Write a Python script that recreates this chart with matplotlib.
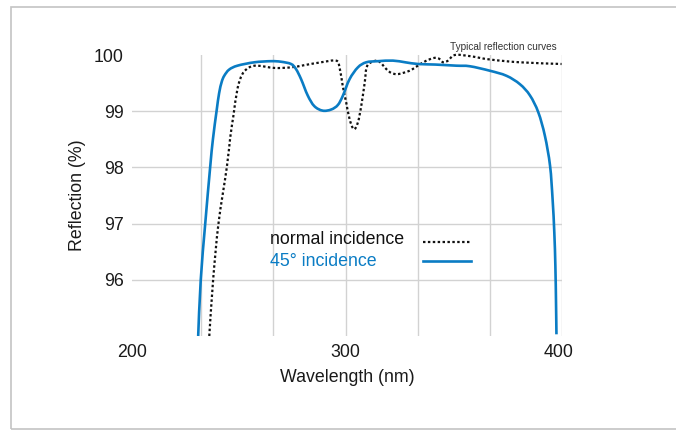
import matplotlib
matplotlib.use("Agg")
import matplotlib.pyplot as plt
import numpy as np
from matplotlib.patches import Rectangle, PathPatch
from matplotlib.path import Path

plt.rcParams['font.family'] = ['Liberation Sans', 'DejaVu Sans']

# 45° incidence (solid blue)
blue_nm = [231.0, 232.2, 234.3, 236.6, 237.9, 239.6, 240.8, 242.0, 243.2, 245.5,
           249.4, 257.3, 265.1, 269.8, 274.5, 276.8, 279.2, 282.3, 285.4, 289.3,
           293.3, 296.4, 298.7, 301.9, 305.8, 309.7, 315.2, 322.2, 328.0, 333.9,
           342.0, 351.9, 358.2, 367.6, 375.4, 381.7, 386.4, 390.3, 393.4, 395.8,
           397.0, 397.8, 398.3, 398.6, 398.8]
blue_r = [95.0, 96.0, 97.0, 98.0, 98.50, 99.0, 99.32, 99.52, 99.63, 99.74,
          99.81, 99.87, 99.89, 99.88, 99.84, 99.75, 99.57, 99.28, 99.09, 99.01,
          99.03, 99.11, 99.27, 99.57, 99.78, 99.87, 99.89, 99.90, 99.87, 99.84,
          99.83, 99.81, 99.80, 99.72, 99.63, 99.48, 99.28, 98.98, 98.56, 98.03,
          97.43, 96.84, 96.24, 95.59, 95.03]

# normal incidence (dotted black)
norm_nm = [236.2, 238.0, 240.5, 244.4, 246.0, 247.5, 249.4, 251.7, 254.9, 258.8,
           266.7, 274.5, 280.8, 288.5, 295.6, 297.2, 298.7, 300.3, 301.9, 303.9,
           305.8, 307.4, 309.0, 310.2, 314.4, 316.5, 319.1, 321.5, 324.6, 330.0,
           333.9, 337.9, 341.8, 344.0, 345.7, 348.0, 351.2, 358.2, 367.6, 381.7,
           401.2]
norm_r = [95.0, 96.0, 97.0, 98.0, 98.53, 98.92, 99.40, 99.66, 99.78, 99.81,
          99.77, 99.78, 99.82, 99.87, 99.90, 99.78, 99.45, 99.16, 98.86, 98.68,
          98.80, 99.10, 99.51, 99.81, 99.90, 99.86, 99.75, 99.68, 99.66, 99.72,
          99.81, 99.90, 99.95, 99.93, 99.87, 99.90, 100.0, 99.98, 99.92, 99.87,
          99.84]

x_ticks = [200, 300, 400]
y_ticks = [96, 97, 98, 99, 100]
x_grid = [232.4, 266.2, 300.0, 333.8, 367.6, 401.4]
y_grid = [96, 97, 98, 99]
legend_labels = ['normal incidence', '45° incidence']

BLUE = '#0a7cc4'
BLACK = '#111111'
FS = 12.8


def smooth_path(xs, ys):
    """Cubic Bezier path passing through every data point (Catmull-Rom tangents)."""
    P = np.column_stack([xs, ys]).astype(float)
    n = len(P)
    verts = [P[0]]
    codes = [Path.MOVETO]
    for i in range(n - 1):
        p0 = P[i - 1] if i > 0 else P[i]
        p1 = P[i]
        p2 = P[i + 1]
        p3 = P[i + 2] if i + 2 < n else P[i + 1]
        verts += [p1 + (p2 - p0) / 6.0, p2 - (p3 - p1) / 6.0, p2]
        codes += [Path.CURVE4] * 3
    return Path(verts, codes)


fig = plt.figure(figsize=(6.76, 4.30), dpi=100)
AX_L, AX_T, AX_W, AX_H = 132, 55, 430, 281
ax = fig.add_axes([AX_L/676, 1 - (AX_T + AX_H)/430, AX_W/676, AX_H/430])
ax.set_xlim(200, 401.4)
ax.set_ylim(95, 100)


def ax_x(px):
    return (px - AX_L) / AX_W


def ax_y(py):
    return (AX_T + AX_H - py) / AX_H


for gx in x_grid:
    ax.plot([gx, gx], [95, 100], color='#d2d2d2', lw=1.0, zorder=0)
for gy in y_grid:
    ax.plot([200, 401.4], [gy, gy], color='#d2d2d2', lw=1.0, zorder=0)

DOT = (0, (1.1, 1.1))
p_norm = PathPatch(smooth_path(norm_nm, norm_r), fill=False, edgecolor=BLACK, lw=1.6,
                   linestyle=DOT, clip_on=False, zorder=3)
p_norm.set_capstyle('butt')
ax.add_patch(p_norm)
p_blue = PathPatch(smooth_path(blue_nm, blue_r), fill=False, edgecolor=BLUE, lw=1.9,
                   clip_on=False, zorder=4)
ax.add_patch(p_blue)

for s in ax.spines.values():
    s.set_visible(False)
ax.set_xticks(x_ticks)
ax.set_yticks(y_ticks)
ax.tick_params(length=0, labelsize=FS, colors='#1a1a1a')
ax.tick_params(axis='y', pad=6)
ax.tick_params(axis='x', pad=6)

ax.text(0.5, ax_y(377), 'Wavelength (nm)', transform=ax.transAxes,
        ha='center', va='center', fontsize=FS, color='#1a1a1a')
ax.text(ax_x(78), 0.5, 'Reflection (%)', transform=ax.transAxes,
        ha='center', va='center', rotation=90, fontsize=FS, color='#1a1a1a')

# legend drawn by hand: text left-aligned, samples to the right
ax.text(ax_x(270), ax_y(240), legend_labels[0], transform=ax.transAxes,
        ha='left', va='center', fontsize=FS, color=BLACK)
ax.text(ax_x(270), ax_y(262), legend_labels[1], transform=ax.transAxes,
        ha='left', va='center', fontsize=FS, color=BLUE)
ax.plot([ax_x(423), ax_x(471)], [ax_y(241.5), ax_y(241.5)], transform=ax.transAxes,
        color=BLACK, lw=1.6, linestyle=DOT, dash_capstyle='butt', clip_on=False)
ax.plot([ax_x(423), ax_x(471)], [ax_y(261), ax_y(261)], transform=ax.transAxes,
        color=BLUE, lw=1.9, clip_on=False)

fig.text(557/676, 1 - 46.5/430, 'Typical reflection curves', ha='right', va='center',
         fontsize=7.2, color='#333333')

fig.patches.append(Rectangle((11/676, 0.6/430), 1.2, (430 - 7.5)/430,
                             transform=fig.transFigure, fill=False,
                             edgecolor='#c4c4c4', lw=1.2))

fig.savefig('out.png', dpi=100)
